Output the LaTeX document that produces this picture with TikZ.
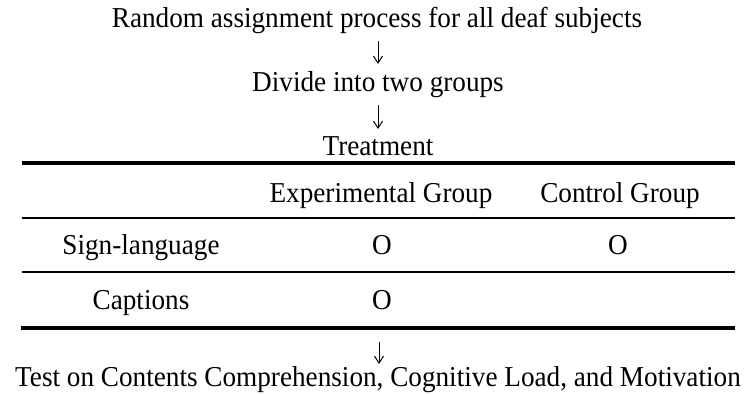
\documentclass[tikz,border=0pt]{standalone}
\usepackage{fontspec}
\setmainfont{Liberation Serif}
\usetikzlibrary{arrows.meta}
\begin{document}
\begin{tikzpicture}[x=1pt,y=-1pt,
  txt/.style={anchor=base,inner sep=0pt,font=\fontsize{27.2}{32}\selectfont},
  flowarrow/.style={line width=1pt,-{Straight Barb[length=7pt,width=9pt,line width=1pt]}},
  thickrule/.style={line width=4pt},
  thinrule/.style={line width=1.3pt}]
\useasboundingbox (0,0) rectangle (749,394);
% flow texts
\node[txt] (random) at (377,27) {\scalebox{1}[1.06]{Random assignment process for all deaf subjects}};
\node[txt] (divide) at (378,91) {\scalebox{1}[1.06]{Divide into two groups}};
\node[txt] (treat) at (378,155) {\scalebox{1}[1.06]{Treatment}};
\node[txt] (test) at (378,386) {\scalebox{1}[1.06]{Test on Contents Comprehension, Cognitive Load, and Motivation}};
% arrow ends
\coordinate (a1s) at (378,41); \coordinate (a1e) at (378,64);
\coordinate (a2s) at (378,105); \coordinate (a2e) at (378,129);
\coordinate (a3s) at (379,342); \coordinate (a3e) at (379,364);
\draw[flowarrow] (a1s) -- (a1e);
\draw[flowarrow] (a2s) -- (a2e);
\draw[flowarrow] (a3s) -- (a3e);
% rules
\coordinate (r1l) at (22,163); \coordinate (r1r) at (735,163);
\coordinate (r2l) at (22,218); \coordinate (r2r) at (735,218);
\coordinate (r3l) at (22,272); \coordinate (r3r) at (735,272);
\coordinate (r4l) at (21,328); \coordinate (r4r) at (735,328);
\draw[thickrule] (r1l) -- (r1r);
\draw[thinrule] (r2l) -- (r2r);
\draw[thinrule] (r3l) -- (r3r);
\draw[thickrule] (r4l) -- (r4r);
% table
\node[txt] (hexp) at (381,202) {\scalebox{1}[1.06]{Experimental Group}};
\node[txt] (hctl) at (620,202) {\scalebox{1}[1.06]{Control Group}};
\node[txt] (sign) at (141,254) {\scalebox{1}[1.06]{Sign-language}};
\node[txt] (o11) at (382,254) {\scalebox{1}[1.06]{O}};
\node[txt] (o12) at (618,254) {\scalebox{1}[1.06]{O}};
\node[txt] (capt) at (141,309) {\scalebox{1}[1.06]{Captions}};
\node[txt] (o21) at (382,309) {\scalebox{1}[1.06]{O}};
\end{tikzpicture}
\end{document}
